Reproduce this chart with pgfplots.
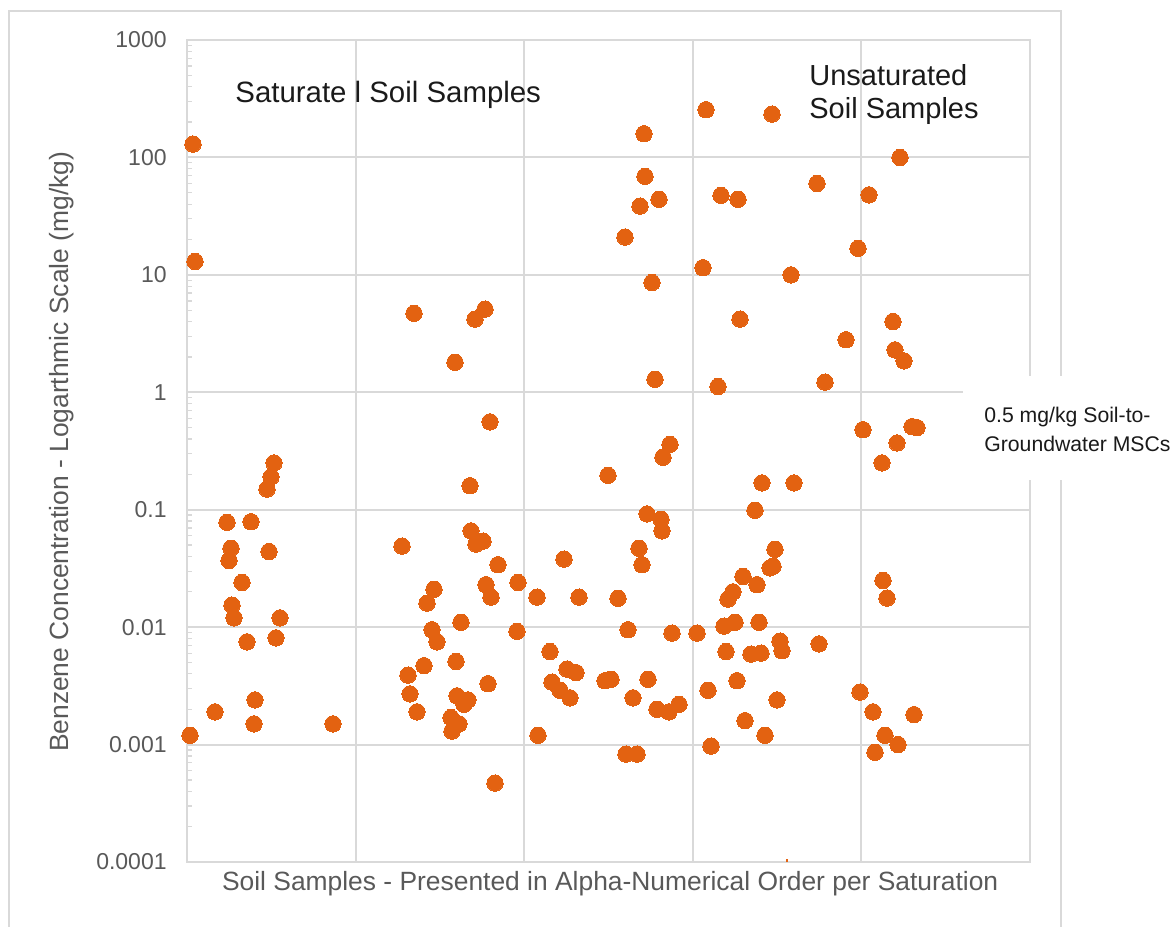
\documentclass[border=0pt]{standalone}
\usepackage{fontspec}
\setmainfont{Liberation Sans}
\usepackage{pgfplots}
\usepackage{pgfplotstable}
\pgfplotsset{compat=1.18}
\definecolor{dotorange}{RGB}{227,98,17}
\definecolor{gridgray}{RGB}{217,217,217}
\definecolor{labelgray}{RGB}{89,89,89}
\definecolor{titleblack}{RGB}{26,26,26}
\pgfplotstableread{
x y
6 130
8 13
3 0.0012
28 0.0019
40 0.078
44 0.047
42 0.037
45 0.0154
47 0.012
55 0.024
60 0.0075
64 0.079
68 0.0024
67 0.0015
82 0.044
80 0.15
84 0.19
87 0.25
89 0.0081
93 0.012
146 0.0015
215 0.049
221 0.0039
223 0.0027
227 4.7
230 0.0019
237 0.0047
240 0.016
247 0.021
245 0.0095
250 0.0075
264 0.0017
265 0.0013
268 1.8
269 0.0051
270 0.0026
272 0.0015
274 0.011
277 0.0022
281 0.0024
283 0.16
284 0.066
288 4.2
289 0.051
296 0.054
298 5.1
299 0.023
301 0.0033
303 0.56
304 0.018
308 0.00047
311 0.034
330 0.0092
331 0.024
350 0.018
351 0.0012
363 0.0062
365 0.0034
373 0.0029
377 0.038
380 0.0044
389 0.0041
383 0.0025
392 0.018
418 0.0035
424 0.0036
421 0.196
431 0.0176
438 21
441 0.0095
446 0.0025
439 0.00083
450 0.00083
452 0.047
453 38.5
455 0.034
457 159
458 69
460 0.092
461 0.0036
465 8.6
468 1.29
470 0.0020
472 44
474 0.083
475 0.066
476 0.28
482 0.0019
483 0.36
485 0.0089
492 0.0022
510 0.0089
516 11.5
519 255
521 0.0029
524 0.00097
531 1.12
534 47.5
537 0.0102
539 0.0062
541 0.0173
546 0.020
548 0.011
550 0.0035
551 44
553 4.2
556 0.027
558 0.0016
564 0.0059
568 0.099
570 0.023
572 0.011
574 0.006
575 0.169
578 0.0012
585 234
583 0.032
586 0.033
588 0.046
590 0.0024
593 0.0076
595 0.0063
604 10
607 0.169
630 60
632 0.0072
638 1.22
659 2.8
671 16.8
673 0.0028
676 0.48
682 48
686 0.0019
688 0.00086
695 0.25
696 0.025
698 0.0012
700 0.0177
706 4.0
708 2.3
710 0.37
711 0.001
713 100
717 1.85
725 0.51
727 0.0018
730 0.50
}\samples
\begin{document}
\begin{tikzpicture}[x=1pt,y=1pt]
\useasboundingbox (0,0) rectangle (587.5,463.5);
\draw[gridgray, line width=1pt] (4.5,-10) -- (4.5,458) -- (530.5,458) -- (530.5,-10);
\begin{axis}[
  at={(93.5pt,32.5pt)}, anchor=south west,
  scale only axis, width=421.5pt, height=411pt,
  xmin=0, xmax=843,
  ymode=log, ymin=1e-4, ymax=1000,
  xtick={0,168.6,337.2,505.8,674.4,843}, xticklabels={},
  ytick={0.0001,0.001,0.01,0.1,1,10,100,1000},
  yticklabels={0.0001,0.001,0.01,0.1,1,10,100,1000},
  grid=major, major grid style={gridgray, line width=1pt},
  axis line style={gridgray, line width=1pt},
  xtick style={draw=none},
  ytick style={gridgray, line width=0.6pt},
  ytick pos=left, xtick pos=bottom,
  tick align=inside, major tick length=2.5pt, minor tick length=2.5pt,
  yticklabel style={font=\fontsize{11.5}{13}\selectfont, text=labelgray, inner sep=0pt, xshift=-10pt},
  /pgf/number format/assume math mode=true,
  xlabel={Soil Samples - Presented in Alpha-Numerical Order per Saturation},
  ylabel={Benzene Concentration - Logarthmic Scale (mg/kg)},
  label style={font=\fontsize{13.2}{15}\selectfont, text=labelgray},
  xlabel style={at={(axis description cs:0.502,-0.0268)}, anchor=center},
  ylabel style={at={(axis description cs:-0.1483,0.499)}, anchor=center},
  clip=false,
]
\addplot[only marks, mark=*, mark size=4.1pt, mark options={draw=dotorange, fill=dotorange, line width=0pt}] table[x=x, y=y] {\samples};
\addplot[dotorange, line width=0.7pt, mark=none] coordinates {(600,0.0001) (600,0.000107)};
\end{axis}
\node[anchor=west, font=\fontsize{14.7}{17}\selectfont, text=titleblack, inner sep=0pt] at (117.5,416) {Saturate l Soil Samples};
\node[anchor=west, align=left, font=\fontsize{14.5}{16.5}\selectfont, text=titleblack, inner sep=0pt] at (404.5,416) {Unsaturated\\Soil Samples};
\fill[white] (481.5,223.5) rectangle (587.5,275.5);
\node[anchor=west, align=left, font=\fontsize{10.6}{14.5}\selectfont, text=titleblack, inner sep=0pt] at (492,249) {0.5 mg/kg Soil-to-\\Groundwater MSCs};
\end{tikzpicture}
\end{document}
